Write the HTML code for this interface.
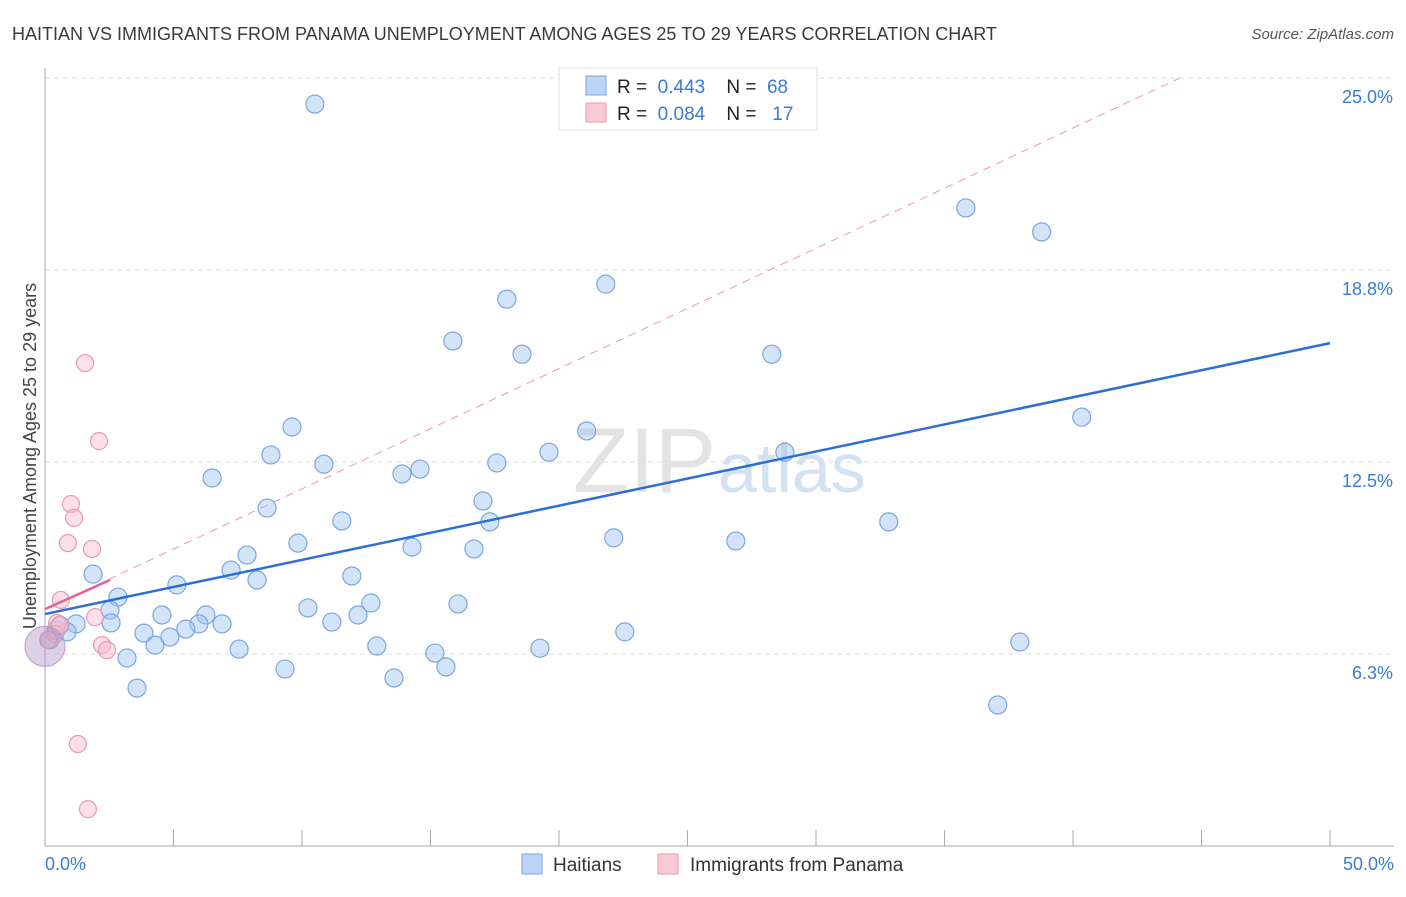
<!DOCTYPE html>
<html><head><meta charset="utf-8"><style>
body{margin:0;background:#fff;font-family:"Liberation Sans",sans-serif;}
svg text{font-family:"Liberation Sans",sans-serif;}
</style></head><body>
<svg id="chart" width="1406" height="892" xmlns="http://www.w3.org/2000/svg">
<text x="12" y="40" font-size="18" fill="#3a3a3a">HAITIAN VS IMMIGRANTS FROM PANAMA UNEMPLOYMENT AMONG AGES 25 TO 29 YEARS CORRELATION CHART</text>
<text x="1394" y="39" font-size="15" fill="#555" font-style="italic" text-anchor="end">Source: ZipAtlas.com</text>
<text x="716" y="492" font-size="92" fill="#e3e3e3" font-family="Liberation Serif" text-anchor="end">ZIP</text>
<text x="718" y="492" font-size="70" fill="#d3e2f3">atlas</text>
<g id="grid"></g><g id="axes"></g><g id="marks"></g>
<text x="30" y="462" font-size="18" fill="#444" text-anchor="middle" transform="rotate(-90 30 456)">Unemployment Among Ages 25 to 29 years</text>
<text x="45" y="870" font-size="18" fill="#3a7bd5">0.0%</text>
<text x="1394" y="870" font-size="18" fill="#3a7bd5" text-anchor="end">50.0%</text>
<g>
<rect x="559" y="68" width="258" height="62" fill="#fff" stroke="#ddd"/>
<rect x="586" y="76" width="20" height="19" fill="#bcd4f5" stroke="#7aa6e0"/>
<rect x="586" y="103" width="20" height="19" fill="#f9c9d6" stroke="#e89ab0"/>
<text x="617" y="93" font-size="19" fill="#222" xml:space="preserve">R =  <tspan fill="#3a7bd5">0.443</tspan>    N =  <tspan fill="#3a7bd5">68</tspan></text>
<text x="617" y="120" font-size="19" fill="#222" xml:space="preserve">R =  <tspan fill="#3a7bd5">0.084</tspan>    N =   <tspan fill="#3a7bd5">17</tspan></text>
</g>
<g>
<rect x="522" y="854" width="20" height="20" fill="#bcd4f5" stroke="#7aa6e0"/>
<text x="553" y="871" font-size="19" fill="#333">Haitians</text>
<rect x="658" y="854" width="20" height="20" fill="#f9c9d6" stroke="#e89ab0"/>
<text x="690" y="871" font-size="19" fill="#333">Immigrants from Panama</text>
</g>
</svg>
<script>
const yTicks=[6.25,12.5,18.75,25];
const yTickLabels=["6.3%","12.5%","18.8%","25.0%"];
const blueX=[10.50,35.83,38.78,21.82,17.97,15.87,18.56,28.28,40.34,9.61,21.08,19.61,28.79,8.79,10.85,17.58,14.59,13.89,6.50,17.04,8.64,17.31,11.55,32.83,22.13,26.88,9.84,14.28,16.69,7.86,7.24,1.87,11.94,8.25,5.13,2.84,12.68,16.07,10.23,2.53,4.55,6.26,12.18,1.21,2.57,5.99,6.89,11.16,5.48,0.86,3.85,4.86,22.56,37.93,4.28,12.91,7.55,19.26,15.17,3.19,15.60,9.34,13.58,3.58,37.07,0.43,0.19,0.58];
const blueY=[24.15,20.77,19.99,18.29,17.80,16.44,16.01,16.01,13.96,13.64,13.51,12.82,12.82,12.73,12.43,12.47,12.27,12.11,11.98,11.23,11.00,10.55,10.58,10.55,10.03,9.93,9.86,9.73,9.67,9.47,8.98,8.85,8.79,8.66,8.50,8.10,7.91,7.88,7.75,7.68,7.52,7.52,7.52,7.23,7.26,7.23,7.23,7.29,7.06,6.97,6.93,6.80,6.97,6.64,6.54,6.51,6.41,6.44,6.28,6.12,5.83,5.76,5.47,5.14,4.59,7.03,6.71,7.19];
const pinkX=[1.56,2.10,1.01,1.13,0.89,1.83,0.62,1.95,0.47,0.39,2.22,2.41,1.28,1.67,0.58,0.12];
const pinkY=[15.72,13.18,11.13,10.68,9.86,9.67,8.01,7.45,7.26,6.90,6.54,6.38,3.32,1.20,7.19,6.71];
const blueFit=[7.55,16.37];
const pinkFit=[7.71,8.66,2.53];
const diagEnd=[44.16,25];
const NS="http://www.w3.org/2000/svg";
const sx=v=>45+v/50*1285, sy=v=>846-v/6.25*192;
function mk(p,t,a){const e=document.createElementNS(NS,t);for(const k in a)e.setAttribute(k,a[k]);document.getElementById(p).appendChild(e);return e;}
yTicks.forEach((t,i)=>{
 const l=mk('grid','line',{x1:45,x2:1394,y1:sy(t),y2:sy(t),stroke:'#ddd','stroke-dasharray':'5,4'});
 
 
 const tx=mk('grid','text',{x:1393,y:sy(t)+25,'font-size':18,fill:'#3a7bd5','text-anchor':'end'});
 tx.textContent=yTickLabels[i];
 
 
});
let a=mk('axes','line',{x1:45,x2:45,y1:68,y2:846,stroke:'#aaa'});


a=mk('axes','line',{x1:45,x2:1394,y1:846,y2:846,stroke:'#aaa'});


for(let i=0;i<=10;i++){const t=mk('axes','line',{x1:sx(i*5),x2:sx(i*5),y1:830,y2:846,stroke:'#aaa'});
 
 }
let d=mk('marks','line',{x1:sx(0),y1:sy(pinkFit[0]),x2:sx(diagEnd[0]),y2:sy(diagEnd[1]),stroke:'#e89ab0','stroke-dasharray':'8,6','stroke-width':1});


blueX.forEach((x,i)=>{const c=mk('marks','circle',{cx:sx(x),cy:sy(blueY[i]),r:9,fill:'rgba(160,195,240,0.45)',stroke:'#7aa6e0','stroke-width':1.2});
 
 });
pinkX.forEach((x,i)=>{const c=mk('marks','circle',{cx:sx(x),cy:sy(pinkY[i]),r:8.5,fill:'rgba(248,185,205,0.45)',stroke:'#e89ab0','stroke-width':1.2});
 
 });
let big=mk('marks','circle',{cx:sx(0),cy:sy(6.5),r:20,fill:'rgba(180,150,200,0.45)',stroke:'#b79ccd'});


let bl=mk('marks','line',{x1:sx(0),y1:sy(blueFit[0]),x2:sx(50),y2:sy(blueFit[1]),stroke:'#2b6fd6','stroke-width':2.5});


let pl=mk('marks','line',{x1:sx(0),y1:sy(pinkFit[0]),x2:sx(pinkFit[2]),y2:sy(pinkFit[1]),stroke:'#e8608a','stroke-width':2.5});


</script>
</body></html>
